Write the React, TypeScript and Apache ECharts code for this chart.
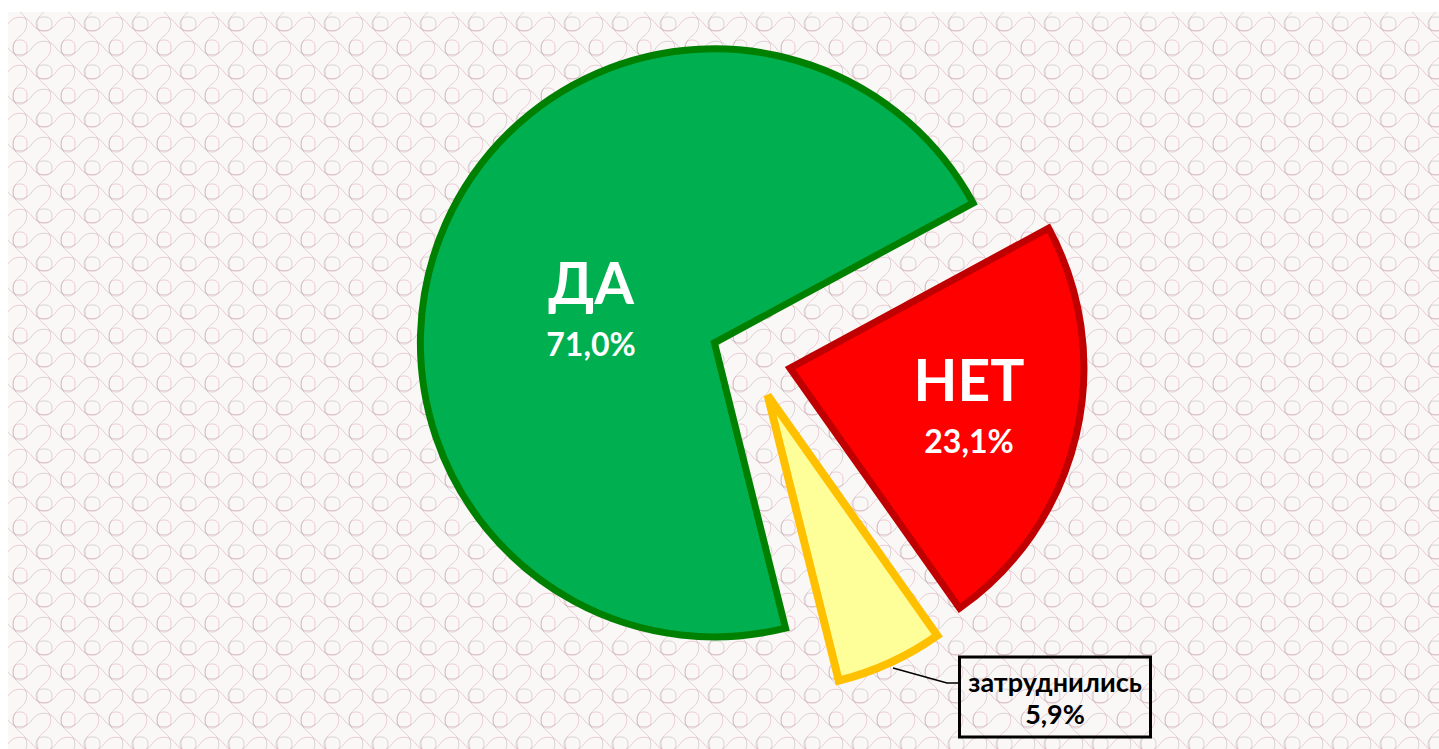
import React, { useEffect, useRef } from "react";
import * as echarts from "echarts";

const categories = ["ДА", "НЕТ", "затруднились"];
const values = [71.0, 23.1, 5.9];

const fillColors = ["#00B050", "#FF0000", "#FFFF99"];
const borderColors = ["#008000", "#C00000", "#FFC000"];
const borderWidths = [7, 7, 8];

const FONT = "Lato, 'Open Sans', sans-serif";

const PIE_CENTER = [751, 359];
const PIE_RADIUS = 294;
const START_ANGLE = -76;
const EXPLODE = 40;

const labelSpots = [
  { x: 591, y: 310 },
  { x: 969, y: 407 },
  { x: 1055, y: 697 },
];
const calloutLine = [
  [893, 668],
  [947, 683],
  [959, 683],
];

function patternUrl(): string {
  const s = 48;
  const a = 9;
  const pink = "rgba(214,120,140,0.38)";
  const gray = "rgba(150,135,142,0.36)";
  const hw = (y: number, sgn: number) =>
    `M0 ${y} C${s / 8} ${y - a * sgn} ${(3 * s) / 8} ${y - a * sgn} ${s / 2} ${y} S${(7 * s) / 8} ${y + a * sgn} ${s} ${y}`;
  const vw = (x: number, sgn: number) =>
    `M${x} 0 C${x - a * sgn} ${s / 8} ${x - a * sgn} ${(3 * s) / 8} ${x} ${s / 2} S${x + a * sgn} ${(7 * s) / 8} ${x} ${s}`;
  const q = s / 4;
  const q3 = (3 * s) / 4;
  const paths = [
    `<path d="${hw(q, 1)}" stroke="${pink}"/>`,
    `<path d="${hw(q3, -1)}" stroke="${gray}"/>`,
    `<path d="${vw(q, -1)}" stroke="${gray}"/>`,
    `<path d="${vw(q3, 1)}" stroke="${pink}"/>`,
    `<rect x="${q - 7}" y="${q3 - 8}" width="14" height="16" rx="6" stroke="${pink}"/>`,
    `<rect x="${q3 - 8}" y="${q - 7}" width="16" height="14" rx="6" stroke="${gray}"/>`,
  ].join("");
  const svg = `<svg xmlns="http://www.w3.org/2000/svg" width="${s}" height="${s}"><rect width="${s}" height="${s}" fill="#FAF7F7"/><g fill="none" stroke-width="0.9">${paths}</g></svg>`;
  return `url("data:image/svg+xml;utf8,${encodeURIComponent(svg)}")`;
}

const fmtPct = (v: number) => v.toFixed(1).replace(".", ",") + "%";

export default function App() {
  const ref = useRef<HTMLDivElement>(null);

  useEffect(() => {
    if (!ref.current) return;
    const chart = echarts.init(ref.current, undefined, { renderer: "svg" });

    const bigLabel = {
      show: true,
      position: "inside",
      color: "#FFFFFF",
      fontFamily: FONT,
      formatter: (p: any) => `{n|${p.name}}\n{p|${fmtPct(p.value)}}`,
      rich: {
        n: { fontSize: 57, fontWeight: "bold", color: "#FFFFFF", fontFamily: FONT, lineHeight: 66, align: "center" },
        p: { fontSize: 32, fontWeight: "bold", color: "#FFFFFF", fontFamily: FONT, lineHeight: 56, align: "center" },
      },
    };

    const smallLabel = {
      show: true,
      position: "outside",
      color: "#000000",
      fontFamily: FONT,
      fontSize: 27,
      fontWeight: "bold",
      lineHeight: 32,
      align: "center",
      width: 175,
      padding: [9, 8, 7, 8],
      borderColor: "#000000",
      borderWidth: 1.5,
      backgroundColor: "transparent",
      formatter: (p: any) => `${p.name}\n${fmtPct(p.value)}`,
    };

    const total = values.reduce((s, v) => s + v, 0);
    let cum = 0;
    const series = categories.map((_, k) => {
      const mid = START_ANGLE - ((cum + values[k] / 2) / total) * 360;
      cum += values[k];
      const rad = (mid * Math.PI) / 180;
      const cx = PIE_CENTER[0] + Math.cos(rad) * EXPLODE;
      const cy = PIE_CENTER[1] - Math.sin(rad) * EXPLODE;
      const data = categories.map((name, i) => {
        const visible = i === k;
        return {
          name,
          value: values[i],
          itemStyle: visible
            ? { color: fillColors[i], borderColor: borderColors[i], borderWidth: borderWidths[i], borderJoin: "miter" }
            : { color: "transparent", borderWidth: 0 },
          label: visible ? (i < 2 ? bigLabel : smallLabel) : { show: false },
          labelLine:
            visible && i === 2
              ? { show: true, length: 20, length2: 12, lineStyle: { color: "#000000", width: 1.5 } }
              : { show: false },
        };
      });
      return {
        type: "pie",
        center: [cx, cy],
        radius: PIE_RADIUS,
        startAngle: START_ANGLE,
        clockwise: true,
        avoidLabelOverlap: false,
        silent: true,
        emphasis: { disabled: true },
        data,
        labelLayout: (params: any) => {
          if (params.dataIndex !== k) return {};
          const s = labelSpots[k];
          const out: any = { x: s.x, y: s.y, align: "center", verticalAlign: "middle" };
          if (k === 2) out.labelLinePoints = calloutLine;
          return out;
        },
      };
    });

    chart.setOption({
      animation: false,
      backgroundColor: "transparent",
      series,
    });

    return () => chart.dispose();
  }, []);

  return (
    <>
      <div
        style={{ position: "absolute", left: 0, top: 0, width: 1439, height: 749, background: "#FFFFFF" }}
      />
      <div
        style={{
          position: "absolute",
          left: 8,
          top: 12,
          width: 1431,
          height: 737,
          backgroundImage: patternUrl(),
          backgroundRepeat: "repeat",
        }}
      />
      <div ref={ref} style={{ position: "absolute", left: 0, top: 0, width: 1439, height: 749 }} />
    </>
  );
}
